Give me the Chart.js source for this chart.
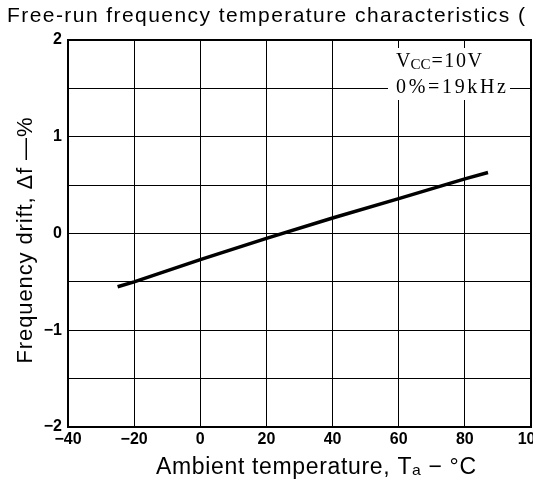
<!DOCTYPE html>
<html lang="en">
<head>
    <meta charset="UTF-8">
    <title>Free-run frequency temperature characteristics</title>
    <script src="https://cdn.jsdelivr.net/npm/chart.js"></script>
    <style>
        html, body { margin: 0; padding: 0; background: #fff; overflow: hidden; }
        .wrap { position: relative; width: 533px; height: 481px; }
    </style>
</head>
<body>
    <div class="wrap">
        <canvas id="driftChart" width="533" height="481"></canvas>
    </div>

    <script>
        // values
        const temperatures = [-25, -20, 0, 20, 40, 60, 80, 87];
        const drift = [-0.55, -0.5, -0.27, -0.05, 0.16, 0.36, 0.565, 0.63];
        const xTicks = [-40, -20, 0, 20, 40, 60, 80, 100];
        const yTicks = [-2, -1, 0, 1, 2];

        const chartTitle = "Free-run frequency temperature characteristics (";
        const xTitle = "Ambient temperature, T\u2090 \u2212 \u00B0C";
        const yTitle = "Frequency drift, \u0394f \u2014%";

        function fmt(v) {
            return v < 0 ? "\u2212" + Math.abs(v) : String(v);
        }

        // draw text stretched to a given width (the scan uses wide spacing)
        function spaced(ctx, text, x, y, width) {
            ctx.letterSpacing = "0px";
            const w = ctx.measureText(text).width;
            const ls = Math.max(0, (width - w) / (text.length - 1));
            ctx.letterSpacing = ls + "px";
            ctx.fillText(text, x, y);
            ctx.letterSpacing = "0px";
        }

        const extras = {
            id: "extras",
            afterDraw(chart) {
                const ctx = chart.ctx;
                const a = chart.chartArea;
                ctx.save();
                ctx.fillStyle = "#000";
                ctx.textBaseline = "alphabetic";
                ctx.textAlign = "left";

                // chart title
                ctx.font = '21px "Liberation Sans"';
                spaced(ctx, chartTitle, 7, 22, 518);

                // x axis title
                ctx.font = '23px "Liberation Sans"';
                spaced(ctx, xTitle, 156, 474, 320);

                // y axis title
                ctx.save();
                ctx.translate(32, (a.top + a.bottom) / 2 + 6);
                ctx.rotate(-Math.PI / 2);
                ctx.font = '22px "Liberation Sans"';
                spaced(ctx, yTitle, -124, 0, 246);
                ctx.restore();

                // white patch behind the note
                ctx.fillStyle = "#fff";
                ctx.fillRect(388, 48, 122, 52);

                ctx.fillStyle = "#000";
                ctx.font = '20px "Liberation Serif"';
                ctx.fillText("V", 396, 67);
                const vw = ctx.measureText("V").width;
                ctx.font = '15px "Liberation Serif"';
                ctx.fillText("CC", 396 + vw, 69);
                const cw = ctx.measureText("CC").width;
                ctx.font = '20px "Liberation Serif"';
                spaced(ctx, "=10V", 396 + vw + cw + 1, 67, 85 - vw - cw);
                spaced(ctx, "0%=19kHz", 396, 93, 110);

                // outer frame
                ctx.strokeStyle = "#000";
                ctx.lineWidth = 2;
                ctx.strokeRect(a.left, a.top, a.right - a.left, a.bottom - a.top);
                ctx.restore();
            }
        };

        new Chart(document.getElementById("driftChart"), {
            type: "line",
            data: {
                datasets: [{
                    data: temperatures.map((t, i) => ({ x: t, y: drift[i] })),
                    borderColor: "#000",
                    borderWidth: 3.5,
                    pointRadius: 0,
                    tension: 0,
                    fill: false
                }]
            },
            options: {
                responsive: false,
                animation: false,
                layout: { padding: { top: 40, right: 2, left: 0, bottom: 0 } },
                plugins: {
                    legend: { display: false },
                    tooltip: { enabled: false },
                    title: { display: false }
                },
                scales: {
                    x: {
                        type: "linear",
                        min: -40,
                        max: 100,
                        afterBuildTicks(scale) {
                            scale.ticks = [];
                            for (let v = -40; v <= 100; v += 20) scale.ticks.push({ value: v });
                        },
                        afterFit(scale) {
                            scale.height = 54;
                            scale.paddingLeft = 0;
                            scale.paddingRight = 0;
                        },
                        grid: { color: "#000", lineWidth: 1, drawTicks: false },
                        border: { display: false },
                        ticks: {
                            color: "#000",
                            padding: 3,
                            maxRotation: 0,
                            autoSkip: false,
                            font: { family: "Liberation Sans", size: 16, weight: "bold" },
                            callback: (v) => xTicks.includes(v) ? fmt(v) : ""
                        }
                    },
                    y: {
                        min: -2,
                        max: 2,
                        afterBuildTicks(scale) {
                            scale.ticks = [];
                            for (let v = -2; v <= 2.001; v += 0.5) scale.ticks.push({ value: v });
                        },
                        afterFit(scale) {
                            scale.width = 68;
                            scale.paddingTop = 0;
                            scale.paddingBottom = 0;
                        },
                        grid: { color: "#000", lineWidth: 1, drawTicks: false },
                        border: { display: false },
                        ticks: {
                            color: "#000",
                            padding: 6,
                            autoSkip: false,
                            font: { family: "Liberation Sans", size: 16, weight: "bold" },
                            callback: (v) => yTicks.includes(v) ? fmt(v) : ""
                        }
                    }
                }
            },
            plugins: [extras]
        });
    </script>
</body>
</html>
